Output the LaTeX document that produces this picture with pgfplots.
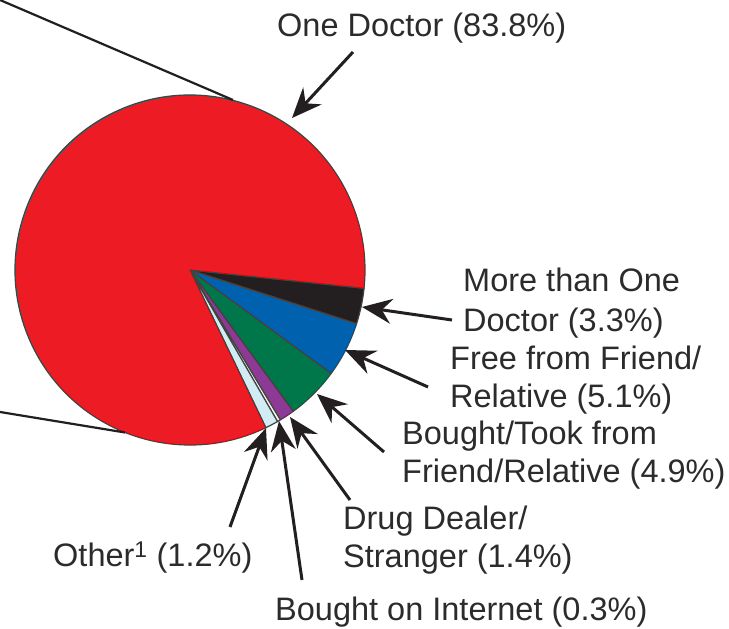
\documentclass[border=0pt]{standalone}
\usepackage{pgfplots}
\usepackage{pgfplotstable}
\usepackage{fontspec}
\setmainfont{Liberation Sans}
\pgfplotsset{compat=1.18}
\usetikzlibrary{arrows.meta}
\definecolor{cRed}{HTML}{ED1C24}
\definecolor{cBlack}{HTML}{231F20}
\definecolor{cBlue}{HTML}{0061AF}
\definecolor{cGreen}{HTML}{00774B}
\definecolor{cPurple}{HTML}{8D3A97}
\definecolor{cWhite}{HTML}{F4F4F4}
\definecolor{cLight}{HTML}{D3EBF3}
\definecolor{txt}{HTML}{2B2B2B}
\pgfplotstableread{
label value color
MoreThanOne 3.3 cBlack
FreeFriend 5.1 cBlue
BoughtFriend 4.9 cGreen
DrugDealer 1.4 cPurple
Internet 0.3 cWhite
Other 1.2 cLight
OneDoctor 83.8 cRed
}\piedata
\begin{document}
\begin{tikzpicture}
\begin{axis}[
  hide axis, scale only axis, width=729pt, height=629pt,
  xmin=0, xmax=729, ymin=0, ymax=629, clip=false,
]
\def\angA{-6}
\pgfplotsforeachungrouped \i in {0,...,6}{%
  \pgfplotstablegetelem{\i}{value}\of\piedata \let\v\pgfplotsretval
  \pgfplotstablegetelem{\i}{color}\of\piedata \let\c\pgfplotsretval
  \pgfmathsetmacro\angB{\angA-3.6*\v}%
  \edef\temp{\noexpand\filldraw[fill=\c, draw=cBlack!85, line width=1.2pt, line join=round] (axis cs:190,359) -- ++(\angA:175pt) arc[start angle=\angA, end angle=\angB, radius=175pt] -- cycle;}%
  \temp
  \global\let\angA\angB
}
% leader lines from the cropped chart
\draw[cBlack, line width=2.2pt] (axis cs:0,629) -- (axis cs:233,529);
\draw[cBlack, line width=2.2pt] (axis cs:0,217) -- (axis cs:125,196.5);
% arrows
\tikzset{arr/.style={cBlack, line width=3pt, -{Stealth[length=30pt, width=25pt, inset=10pt]}}}
\draw[arr] (axis cs:353,577) -- (axis cs:292,511);
\draw[arr] (axis cs:452,309) -- (axis cs:362,322);
\draw[arr] (axis cs:428,242) -- (axis cs:345,279);
\draw[arr] (axis cs:384,177) -- (axis cs:317,235);
\draw[arr] (axis cs:350,129) -- (axis cs:290,212);
\draw[arr] (axis cs:302,49) -- (axis cs:279,208);
\draw[arr] (axis cs:230,102) -- (axis cs:266,201);
% labels
\tikzset{lab/.style={anchor=base west, inner sep=0pt, text=txt, font=\fontsize{32.5}{39}\selectfont}}
\node[lab] at (axis cs:277,592) {One Doctor (83.8\%)};
\node[lab] at (axis cs:463,337) {More than One};
\node[lab] at (axis cs:463,297) {Doctor (3.3\%)};
\node[lab] at (axis cs:450,259) {Free from Friend/};
\node[lab] at (axis cs:450,221) {Relative (5.1\%)};
\node[lab] at (axis cs:402,184) {Bought/Took from};
\node[lab] at (axis cs:402,146) {Friend/Relative (4.9\%)};
\node[lab] at (axis cs:343,99) {Drug Dealer/};
\node[lab] at (axis cs:343,61) {Stranger (1.4\%)};
\node[lab] at (axis cs:53,62) {Other\textsuperscript{1} (1.2\%)};
\node[lab] at (axis cs:275,8) {Bought on Internet (0.3\%)};
\end{axis}
\pgfresetboundingbox
\path[use as bounding box] (current axis.south west) rectangle (current axis.north east);
\end{tikzpicture}
\end{document}
